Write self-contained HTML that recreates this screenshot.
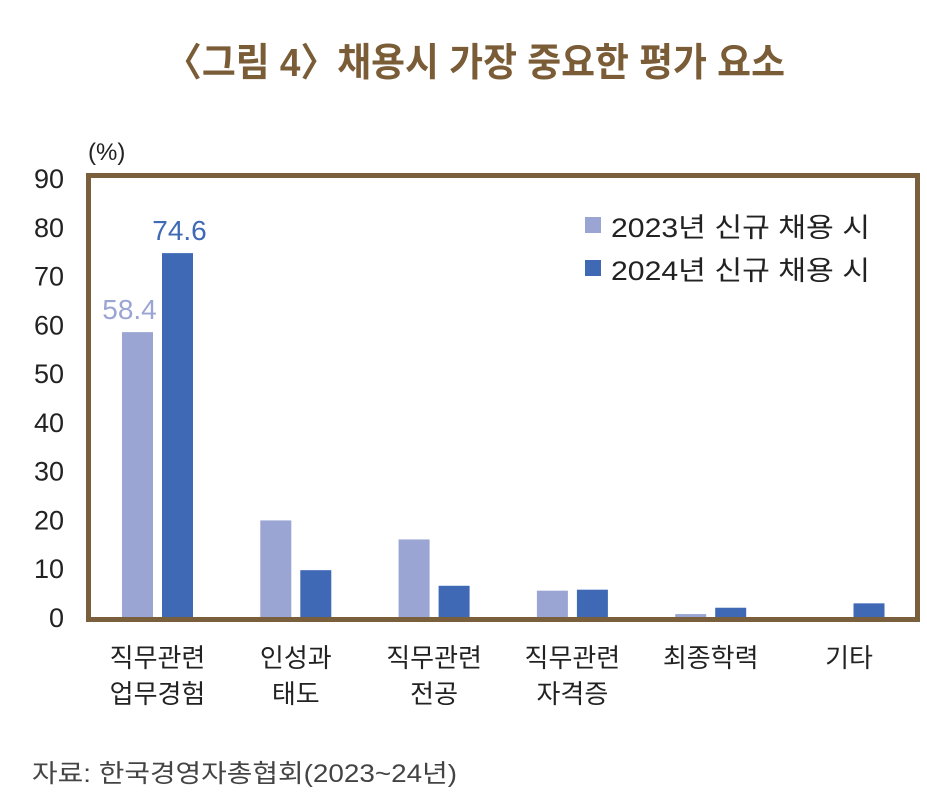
<!DOCTYPE html>
<html><head><meta charset="utf-8"><style>
html,body{margin:0;padding:0;background:#fff}
svg{display:block;font-family:"Liberation Sans","Noto Sans CJK KR",sans-serif}
</style></head><body>
<svg id="chart" width="927" height="810" viewBox="0 0 927 810">
<text x="165" y="76" font-size="39" font-weight="bold" fill="#7a5c37" textLength="620" lengthAdjust="spacingAndGlyphs">〈그림 4〉채용시 가장 중요한 평가 요소</text>
<text x="88" y="160" font-size="24" fill="#222">(%)</text>
<g id="yticks"></g>
<g id="bars"></g>
<rect x="88.5" y="175.5" width="829" height="444" fill="none" stroke="#7a5f3c" stroke-width="5"/>
<g id="xlabels"></g>
<g>
<rect x="585" y="217" width="16" height="16" fill="#9aa5d4"/>
<text x="611" y="237" font-size="27" fill="#222" textLength="259" lengthAdjust="spacingAndGlyphs">2023년 신규 채용 시</text>
<rect x="585" y="260" width="16" height="16" fill="#3f69b5"/>
<text x="611" y="280" font-size="27" fill="#222" textLength="259" lengthAdjust="spacingAndGlyphs">2024년 신규 채용 시</text>
</g>
<text x="32" y="782" font-size="25" fill="#444" textLength="425" lengthAdjust="spacingAndGlyphs">자료: 한국경영자총협회(2023~24년)</text>
</svg>
<script>
const categories=[["직무관련","업무경험"],["인성과","태도"],["직무관련","전공"],["직무관련","자격증"],["최종학력"],["기타"]];
const values2023=[58.4,19.8,15.9,5.4,0.6,0];
const values2024=[74.6,9.6,6.4,5.6,1.9,2.8];
const yTicks=[0,10,20,30,40,50,60,70,80,90];
const labeled2023=[0];
const labeled2024=[0];
const NS="http://www.w3.org/2000/svg";
const y0=617,yTop=178,yMax=90;
function yScale(v){return y0-(y0-yTop)*v/yMax;}
function groupX(i){return 157.5+i*138.3;}
function mk(t,a,txt){const e=document.createElementNS(NS,t);for(const k in a)e.setAttribute(k,a[k]);if(txt!==undefined)e.textContent=txt;return e;}
const yt=document.getElementById('yticks');
yTicks.forEach(v=>{const t=mk('text',{x:64,y:yScale(v)+10,'font-size':27,'text-anchor':'end',fill:'#222'},String(v));


yt.appendChild(t);});
const bg=document.getElementById('bars');
const bw=31;
categories.forEach((c,i)=>{
 const cx=groupX(i);
 [[values2023,'#9aa5d4',-35.5,'2023',labeled2023,-8],[values2024,'#3f69b5',4.5,'2024',labeled2024,2]].forEach(([vals,col,off,yr,lab,dx])=>{
  const v=vals[i];const y=yScale(v);
  const r=mk('rect',{x:cx+off,y:y,width:bw,height:y0-y,fill:col});
  
  
  bg.appendChild(r);
  if(lab.includes(i)){const t=mk('text',{x:cx+off+bw/2+dx,y:y-13,'font-size':28,'text-anchor':'middle',fill:col},v.toFixed(1));
   
   
   bg.appendChild(t);}
 });
 const xl=document.getElementById('xlabels');
 c.forEach((line,j)=>{const t=mk('text',{x:cx,y:667+j*36,'font-size':26,'text-anchor':'middle',fill:'#222'},line);
  
  
  xl.appendChild(t);});
});
</script>
</body></html>
